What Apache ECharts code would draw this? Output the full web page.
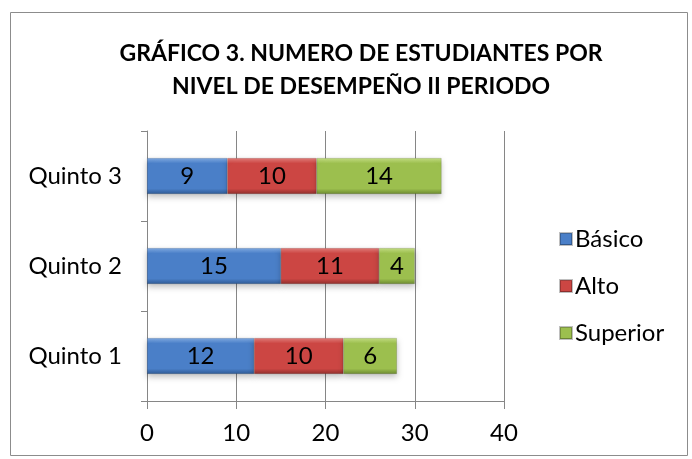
<!DOCTYPE html>
<html><head><meta charset="utf-8">
<script src="https://cdn.jsdelivr.net/npm/echarts@6/dist/echarts.min.js"></script>
<style>html,body{margin:0;padding:0;background:#fff}#c{width:692px;height:459px}</style>
</head><body><div id="c"></div>
<script>
var categories = ['Quinto 1', 'Quinto 2', 'Quinto 3'];
var basico = [12, 15, 9];
var alto = [10, 11, 10];
var superior = [6, 4, 14];
var xTicks = [0, 10, 20, 30, 40];

var F = 'Lato, "Open Sans", sans-serif';
function grad(light, mid, dark) {
  return new echarts.graphic.LinearGradient(0, 0, 0, 1, [
    {offset: 0, color: light}, {offset: 0.15, color: mid}, {offset: 0.85, color: mid}, {offset: 1, color: dark}
  ]);
}
var colors = [
  grad('#7fa9e0', '#4a7fc8', '#2f5a94'),
  grad('#e07c79', '#cc4643', '#8f2f2c'),
  grad('#c2dc82', '#9cbf4e', '#6c8a30')
];
var names = ['Básico', 'Alto', 'Superior'];
var datas = [basico, alto, superior];
var chart = echarts.init(document.getElementById('c'));
chart.setOption({
  animation: false,
  title: {
    text: 'GRÁFICO 3. NUMERO DE ESTUDIANTES POR\nNIVEL DE DESEMPEÑO II PERIODO',
    left: 356, top: 32, textAlign: 'center',
    textStyle: {fontFamily: F, fontWeight: 'bold', fontSize: 23, color: '#000', lineHeight: 33}
  },
  graphic: [{type: 'rect', shape: {x: 10.5, y: 12.5, width: 677, height: 443}, style: {fill: 'none', stroke: '#8c8c8c', lineWidth: 1}}],
  legend: {
    orient: 'vertical', left: 554, top: 222, itemGap: 23, itemWidth: 12, itemHeight: 12,
    icon: 'rect',
    textStyle: {fontFamily: F, fontSize: 24, color: '#000', padding: [0, 0, 0, -2]},
    data: names
  },
  grid: {left: 147, right: 188, top: 131, bottom: 58},
  xAxis: {
    type: 'value', min: 0, max: 40, interval: 10,
    axisLine: {show: true, lineStyle: {color: '#868686'}},
    axisTick: {show: true, length: 8, lineStyle: {color: '#868686'}},
    splitLine: {show: true, lineStyle: {color: '#868686'}},
    axisLabel: {fontFamily: F, fontSize: 24, color: '#000', margin: 20,
      formatter: function (v) { return xTicks.indexOf(v) >= 0 ? String(v) : ''; }}
  },
  yAxis: {
    type: 'category', data: categories,
    axisLine: {show: true, lineStyle: {color: '#868686'}},
    axisTick: {show: true, length: 6, inside: false, lineStyle: {color: '#868686'}},
    axisLabel: {fontFamily: F, fontSize: 24, color: '#000', margin: 25}
  },
  series: names.map(function (n, i) {
    return {
      name: n, type: 'bar', stack: 'a', data: datas[i], barWidth: 36,
      itemStyle: {color: colors[i], borderColor: 'rgba(0,0,0,0.25)', borderWidth: 0.5,
        shadowBlur: 6, shadowColor: 'rgba(0,0,0,0.25)', shadowOffsetY: 3},
      label: {show: true, position: 'inside', fontFamily: F, fontSize: 24, color: '#000'}
    };
  })
});
</script></body></html>
